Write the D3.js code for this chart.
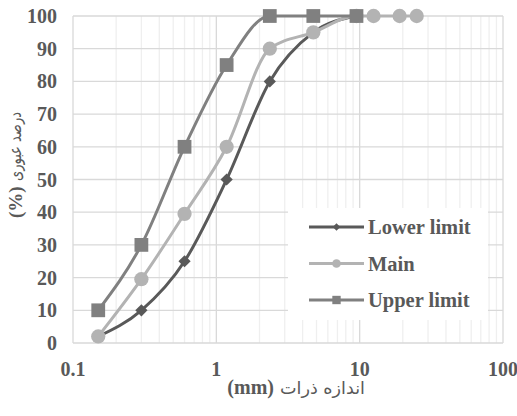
<!DOCTYPE html>
<html>
<head>
  <meta charset="utf-8">
  <title>Grading curve</title>
  <style>
    body { margin: 0; background: #fff; }
  </style>
</head>
<body>
  <div id="chart"></div>
  <script src="https://d3js.org/d3.v7.min.js"></script>
  <script>
    // sieve sizes (mm)
    var sizes = [0.15, 0.3, 0.6, 1.18, 2.36, 4.75, 9.5];
    var mainSizes = [0.15, 0.3, 0.6, 1.18, 2.36, 4.75, 9.5, 12.5, 19, 25];

    var lowerLimit = [2, 10, 25, 50, 80, 95, 100];
    var mainGrade = [2, 19.5, 39.5, 60, 90, 95, 100, 100, 100, 100];
    var upperLimit = [10, 30, 60, 85, 100, 100, 100];

    var xTicks = [0.1, 1, 10, 100];
    var yTicks = [0, 10, 20, 30, 40, 50, 60, 70, 80, 90, 100];

    var W = 517, H = 416;
    var margin = {top: 16, right: 14, bottom: 73, left: 73};
    var width = W - margin.left - margin.right,
        height = H - margin.top - margin.bottom;

    var svg = d3.select("#chart").append("svg")
        .attr("width", W)
        .attr("height", H);

    var g = svg.append("g")
        .attr("transform", "translate(" + margin.left + "," + margin.top + ")");

    var x = d3.scaleLog().domain([0.1, 100]).range([0, width]);
    var y = d3.scaleLinear().domain([0, 100]).range([height, 0]);

    // minor vertical grid (2..9 in each decade)
    var minor = [];
    [0.1, 1, 10].forEach(function(d) {
      for (var k = 2; k <= 9; k++) minor.push(d * k);
    });
    g.selectAll(".minor").data(minor).enter().append("line")
        .attr("x1", function(d) { return x(d); })
        .attr("x2", function(d) { return x(d); })
        .attr("y1", 0).attr("y2", height)
        .attr("stroke", "#efefef").attr("stroke-width", 1.3);

    // major grid
    g.selectAll(".hgrid").data(yTicks).enter().append("line")
        .attr("x1", 0).attr("x2", width)
        .attr("y1", function(d) { return y(d); })
        .attr("y2", function(d) { return y(d); })
        .attr("stroke", "#d9d9d9").attr("stroke-width", 1.3);
    g.selectAll(".vgrid").data(xTicks).enter().append("line")
        .attr("x1", function(d) { return x(d); })
        .attr("x2", function(d) { return x(d); })
        .attr("y1", 0).attr("y2", height)
        .attr("stroke", "#d9d9d9").attr("stroke-width", 1.3);

    // tick labels
    var serif = "'Liberation Serif', 'Times New Roman', serif";
    g.selectAll(".ylab").data(yTicks).enter().append("text")
        .attr("x", -16)
        .attr("y", function(d) { return y(d); })
        .attr("dy", "0.35em")
        .attr("text-anchor", "end")
        .attr("font-family", serif)
        .attr("font-weight", "bold")
        .attr("font-size", 20)
        .attr("fill", "#595959")
        .text(function(d) { return d; });

    g.selectAll(".xlab").data(xTicks).enter().append("text")
        .attr("x", function(d) { return x(d); })
        .attr("y", height + 33)
        .attr("text-anchor", "middle")
        .attr("font-family", serif)
        .attr("font-weight", "bold")
        .attr("font-size", 20)
        .attr("fill", "#595959")
        .text(function(d) { return d; });

    // series
    var series = [
      {name: "Lower limit", xs: sizes, ys: lowerLimit, color: "#595959", shape: d3.symbolSquare, rot: 45, size: 75, lsize: 28},
      {name: "Main", xs: mainSizes, ys: mainGrade, color: "#b3b3b3", shape: d3.symbolCircle, rot: 0, size: 160, lsize: 60},
      {name: "Upper limit", xs: sizes, ys: upperLimit, color: "#808080", shape: d3.symbolSquare, rot: 0, size: 190, lsize: 70}
    ];

    var line = d3.line()
        .x(function(d) { return x(d[0]); })
        .y(function(d) { return y(d[1]); })
        .curve(d3.curveMonotoneX);

    series.forEach(function(s) {
      var pts = s.xs.map(function(v, i) { return [v, s.ys[i]]; });
      g.append("path")
          .datum(pts)
          .attr("d", line)
          .attr("fill", "none")
          .attr("stroke", s.color)
          .attr("stroke-width", 3);
      g.selectAll(null).data(pts).enter().append("path")
          .attr("transform", function(d) {
            return "translate(" + x(d[0]) + "," + y(d[1]) + ") rotate(" + s.rot + ")";
          })
          .attr("d", d3.symbol().type(s.shape).size(s.size))
          .attr("fill", s.color);
    });

    // legend
    var lg = g.append("g").attr("transform", "translate(215,192)");
    lg.append("rect")
        .attr("width", 200).attr("height", 112)
        .attr("fill", "#fff");
    series.forEach(function(s, i) {
      var row = lg.append("g").attr("transform", "translate(0," + (19 + i * 36.5) + ")");
      row.append("line")
          .attr("x1", 21).attr("x2", 76)
          .attr("stroke", s.color).attr("stroke-width", 3);
      row.append("path")
          .attr("transform", "translate(48.5,0) rotate(" + s.rot + ")")
          .attr("d", d3.symbol().type(s.shape).size(s.lsize))
          .attr("fill", s.color);
      row.append("text")
          .attr("x", 80)
          .attr("dy", "0.35em")
          .attr("font-family", serif)
          .attr("font-weight", "bold")
          .attr("font-size", 20.5)
          .attr("fill", "#595959")
          .text(s.name);
    });

    // axis titles: latin part bold serif, persian part regular
    svg.append("text")
        .attr("x", 274)
        .attr("y", 394)
        .attr("text-anchor", "end")
        .attr("font-family", serif)
        .attr("font-weight", "bold")
        .attr("font-size", 20)
        .attr("fill", "#595959")
        .text("(mm)");
    svg.append("text")
        .attr("x", 280)
        .attr("y", 394)
        .attr("text-anchor", "start")
        .attr("font-family", "'DejaVu Sans', sans-serif")
        .attr("font-size", 17)
        .attr("textLength", 85)
        .attr("lengthAdjust", "spacingAndGlyphs")
        .attr("fill", "#595959")
        .text("اندازه ذرات");

    svg.append("text")
        .attr("transform", "translate(22,218) rotate(-90)")
        .attr("text-anchor", "start")
        .attr("font-family", serif)
        .attr("font-weight", "bold")
        .attr("font-size", 19)
        .attr("fill", "#595959")
        .text("(%)");
    svg.append("text")
        .attr("transform", "translate(21,181) rotate(-90)")
        .attr("text-anchor", "start")
        .attr("font-family", "'DejaVu Sans', sans-serif")
        .attr("font-size", 17)
        .attr("textLength", 69)
        .attr("lengthAdjust", "spacingAndGlyphs")
        .attr("fill", "#595959")
        .text("درصد عبوری");
  </script>
</body>
</html>
